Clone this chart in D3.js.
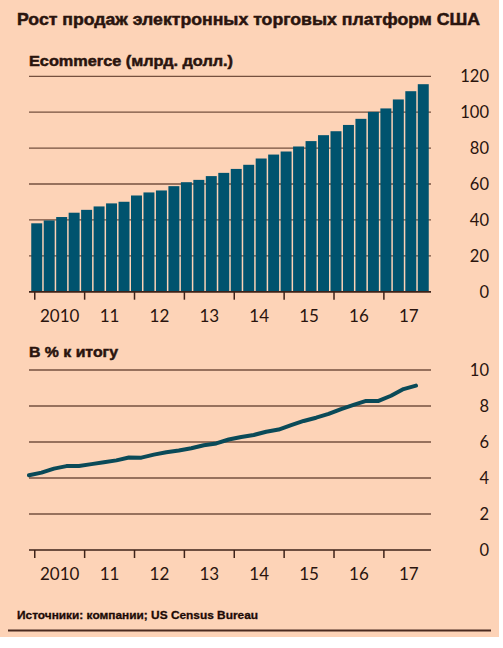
<!DOCTYPE html>
<html><head><meta charset="utf-8">
<script src="https://cdn.jsdelivr.net/npm/d3@7"></script>
<style>
html,body{margin:0;padding:0;background:#fff;}
svg{display:block;}
</style></head>
<body>
<script>
// ---------- DATA ----------
const quarters = [];
const years = [2010, 2011, 2012, 2013, 2014, 2015, 2016, 2017];
years.forEach(y => [1,2,3,4].forEach(q => quarters.push(y + "Q" + q)));
const yearLabels = ["2010", "11", "12", "13", "14", "15", "16", "17"];
const ecommerce = [38.1, 39.7, 41.6, 44.0, 45.6, 47.5, 49.2, 50.1,
                   53.6, 55.3, 56.4, 58.8, 61.0, 62.3, 64.4, 66.2,
                   68.4, 70.7, 74.2, 76.4, 78.1, 80.9, 83.9, 87.2,
                   89.4, 92.9, 96.3, 100.2, 102.1, 107.1, 111.7, 115.6];
const shareOfTotal = [4.15, 4.30, 4.52, 4.66, 4.67, 4.77, 4.87, 4.98,
                      5.14, 5.13, 5.30, 5.43, 5.53, 5.65, 5.82, 5.92,
                      6.14, 6.28, 6.39, 6.57, 6.69, 6.94, 7.17, 7.35,
                      7.56, 7.83, 8.06, 8.28, 8.28, 8.57, 8.94, 9.13];
const topTicks = [0, 20, 40, 60, 80, 100, 120];
const bottomTicks = [0, 2, 4, 6, 8, 10];
const title = "Рост продаж электронных торговых платформ США";
const topTitle = "Ecommerce (млрд. долл.)";
const bottomTitle = "В % к итогу";
const source = "Источники: компании; US Census Bureau";

// ---------- STYLE ----------
const W = 503, H = 648;
const bg = "#FDD3B7";
const ink = "#2a140e";
const grid = "#75503f";
const barColor = "#00536E";
const lineColor = "#0a4a58";
const tickFont = "Lato, 'Open Sans', sans-serif";
const boldFont = "'Liberation Sans', Arial, sans-serif";

const svg = d3.select("body").append("svg").attr("width", W).attr("height", H);
svg.append("rect").attr("x", 0).attr("y", 0).attr("width", 499).attr("height", 637).attr("fill", bg);

svg.append("text").attr("x", 17).attr("y", 25)
  .attr("font-family", boldFont).attr("font-weight", "bold").attr("font-size", 16.5)
  .attr("stroke", ink).attr("stroke-width", 0.5)
  .attr("textLength", 463).attr("lengthAdjust", "spacingAndGlyphs")
  .attr("fill", ink).text(title);

const gridX0 = 29, gridX1 = 431, labelX = 489;

const x = d3.scaleBand().domain(quarters).range([30.5, 429.5]).paddingInner(0.12).paddingOuter(0.06);
const tickPos = y => x(y + "Q1") + x.bandwidth() * 0.32;

function panel(yScale, ticks, titleText, titleY, titleLen) {
  svg.append("text").attr("x", 29).attr("y", titleY)
    .attr("font-family", boldFont).attr("font-weight", "bold").attr("font-size", 15)
    .attr("stroke", ink).attr("stroke-width", 0.5)
    .attr("textLength", titleLen).attr("lengthAdjust", "spacingAndGlyphs")
    .attr("fill", ink).text(titleText);
  const g = svg.append("g");
  g.selectAll("line.grid").data(ticks).join("line")
    .attr("x1", gridX0).attr("x2", gridX1)
    .attr("y1", d => yScale(d)).attr("y2", d => yScale(d))
    .attr("stroke", d => d === 0 ? "#3d2219" : grid)
    .attr("stroke-width", d => d === 0 ? 1.6 : 1.3);
  g.selectAll("text.yl").data(ticks).join("text")
    .attr("x", labelX).attr("y", d => yScale(d))
    .attr("dy", "0.36em").attr("text-anchor", "end")
    .attr("font-family", tickFont).attr("font-size", 16.5).attr("fill", ink)
    .text(d => d);
  return g;
}

// Top panel
const yTop = d3.scaleLinear().domain([0, 120]).range([291.7, 76.3]);
const gTop = panel(yTop, topTicks, topTitle, 65.5, 204);
gTop.selectAll("rect.bar").data(ecommerce).join("rect")
  .attr("x", (d, i) => x(quarters[i])).attr("width", x.bandwidth())
  .attr("y", d => yTop(d)).attr("height", d => yTop(0) - yTop(d))
  .attr("fill", barColor);
gTop.append("line").attr("x1", gridX0).attr("x2", gridX1)
  .attr("y1", yTop(0)).attr("y2", yTop(0)).attr("stroke", "#3d2219").attr("stroke-width", 1.6);

// Bottom panel
const yBot = d3.scaleLinear().domain([0, 10]).range([550, 370]);
const gBot = panel(yBot, bottomTicks, bottomTitle, 357, 89);
const xLine = d3.scalePoint().domain(quarters).range([29, 416]);
gBot.append("path").datum(shareOfTotal)
  .attr("fill", "none").attr("stroke", lineColor).attr("stroke-width", 4)
  .attr("stroke-linejoin", "round").attr("stroke-linecap", "round")
  .attr("d", d3.line().x((d, i) => xLine(quarters[i])).y(d => yBot(d)));

// x axes
function xAxis(axisY) {
  const g = svg.append("g");
  g.selectAll("line").data(years).join("line")
    .attr("x1", d => tickPos(d)).attr("x2", d => tickPos(d))
    .attr("y1", axisY).attr("y2", axisY + 8)
    .attr("stroke", "#3d2219").attr("stroke-width", 1.5);
  g.selectAll("text").data(years).join("text")
    .attr("x", d => tickPos(d) + x.step() * 2).attr("y", axisY + 30)
    .attr("text-anchor", "middle")
    .attr("font-family", tickFont).attr("font-size", 17).attr("fill", ink)
    .text((d, i) => yearLabels[i]);
}
xAxis(yTop(0));
xAxis(yBot(0));

// Source
svg.append("text").attr("x", 17).attr("y", 619)
  .attr("font-family", boldFont).attr("font-weight", "bold").attr("font-size", 11)
  .attr("stroke", "#1c0a06").attr("stroke-width", 0.3)
  .attr("textLength", 241).attr("lengthAdjust", "spacingAndGlyphs")
  .attr("fill", "#1c0a06").text(source);
svg.append("line").attr("x1", 8).attr("x2", 491).attr("y1", 630.5).attr("y2", 630.5)
  .attr("stroke", "#4a2a20").attr("stroke-width", 2);
</script>
</body></html>
